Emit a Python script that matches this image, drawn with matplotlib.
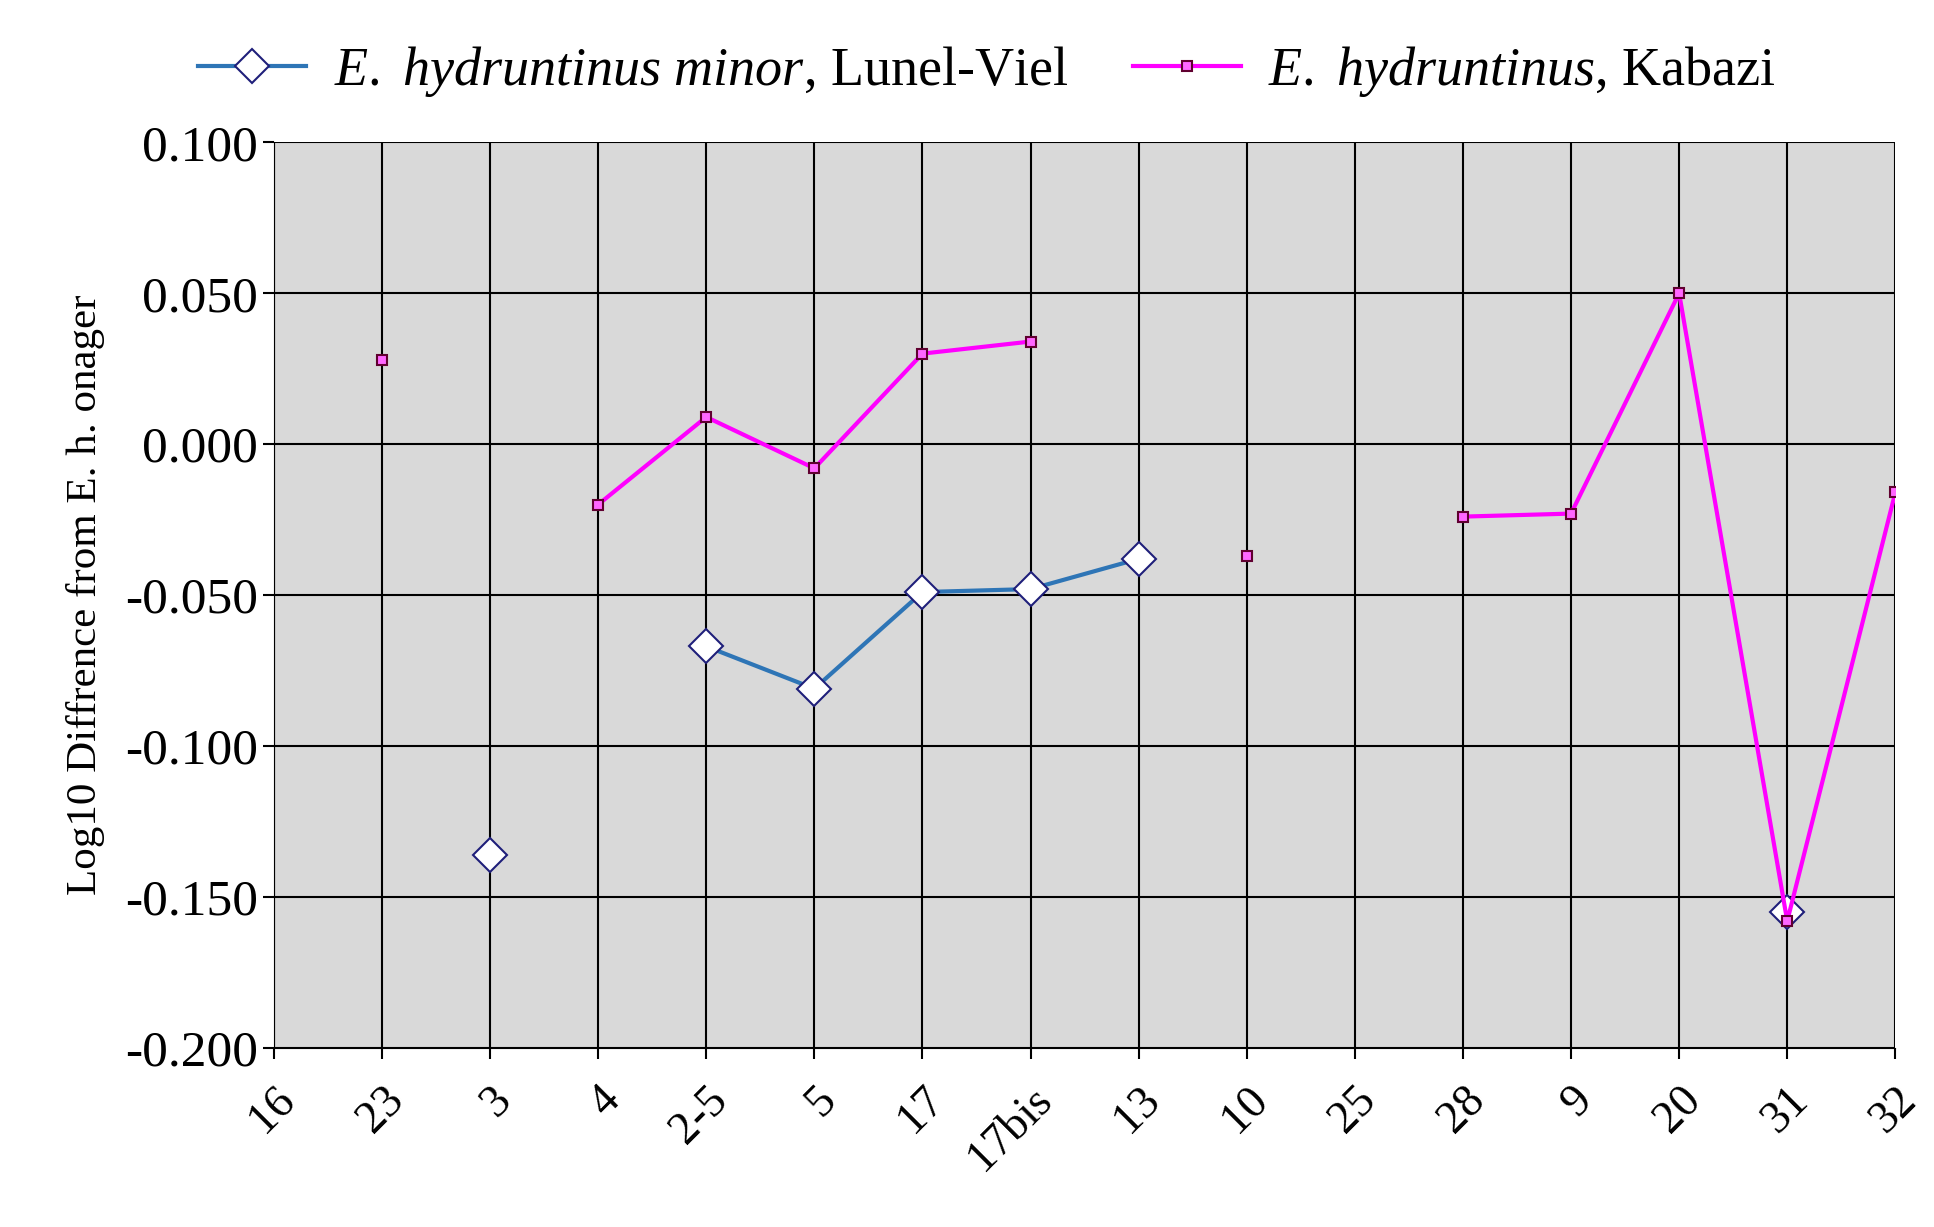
import numpy as np
import matplotlib
matplotlib.use("Agg")
import matplotlib.pyplot as plt

categories = ["16","23","3","4","2-5","5","17","17bis","13","10","25","28","9","20","31","32"]
lunel = [np.nan,np.nan,-0.136,np.nan,-0.067,-0.081,-0.049,-0.048,-0.038,np.nan,np.nan,np.nan,np.nan,np.nan,-0.155,np.nan]
kabazi = [np.nan,0.028,np.nan,-0.020,0.009,-0.008,0.030,0.034,np.nan,-0.037,np.nan,-0.024,-0.023,0.050,-0.158,-0.016]
yticks = [-0.2, -0.15, -0.1, -0.05, 0.0, 0.05, 0.1]
yticklabels = ["-0.200", "-0.150", "-0.100", "-0.050", "0.000", "0.050", "0.100"]

plt.rcParams['font.family'] = ['Liberation Serif', 'DejaVu Serif']
plt.rcParams['mathtext.fontset'] = 'custom'
plt.rcParams['mathtext.it'] = 'Liberation Serif:italic'
plt.rcParams['mathtext.rm'] = 'Liberation Serif'
fig = plt.figure(figsize=(19.34, 12.27), dpi=100)
ax = fig.add_axes([0.1416, 0.146, 0.8384, 0.738])
ax.set_facecolor('#d9d9d9')
x = np.arange(len(categories))
ax.plot(x, lunel, color='#2e75b6', lw=3, marker='D', ms=17, mfc='white', mec='#1f1f7a', mew=1.5,
        label='$\\it{E.\\ hydruntinus\\ minor}$, Lunel-Viel', zorder=3)
ax.plot(x, kabazi, color='#ff00ff', lw=3, marker='s', ms=7, mfc='#ff66ff', mec='#600030', mew=1.5,
        label='$\\it{E.\\ hydruntinus}$, Kabazi', zorder=4)
ax.set_xlim(0, 15)
ax.set_ylim(-0.2, 0.1)
ax.set_yticks(yticks)
ax.set_yticklabels(yticklabels, fontsize=37)
ax.set_xticks(x)
ax.set_xticklabels(categories, rotation=45, ha='right', rotation_mode='anchor', fontsize=33)
ax.grid(True, color='black', lw=1.5)
ax.set_axisbelow(True)
for s in ['top','right']:
    ax.spines[s].set_visible(False)
ax.tick_params(length=8, width=1.5)
ax.tick_params(axis='x', pad=14)
ax.set_ylabel('Log10 Diffrence from E. h. onager', fontsize=31, labelpad=14)
leg = ax.legend(loc='lower center', bbox_to_anchor=(0.44, 1.0), ncol=2, frameon=False, fontsize=39,
                handlelength=2.0, columnspacing=1.2, borderaxespad=0.4, handletextpad=0.5)
fig.savefig('out.png', dpi=100)
